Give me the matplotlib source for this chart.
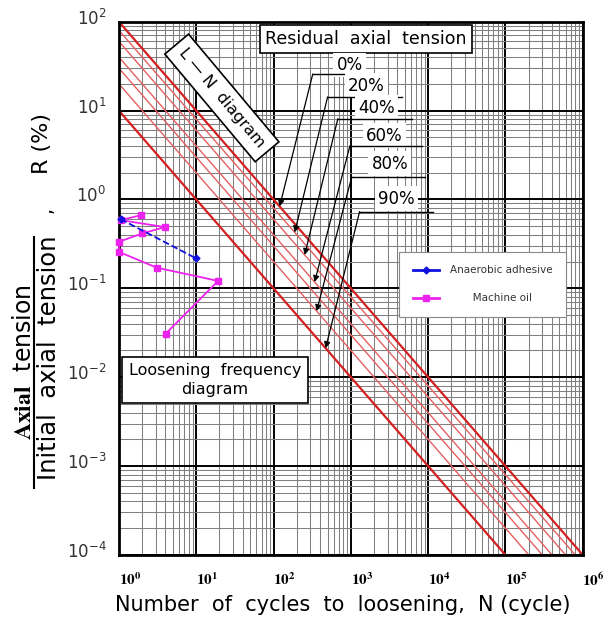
import numpy as np
import matplotlib
matplotlib.use("Agg")
import matplotlib.pyplot as plt
import matplotlib.transforms as mtransforms
from matplotlib.lines import Line2D

# L-N diagram: lines R = C / N for each residual axial tension level
line_consts = [100, 80, 60, 40, 30, 20, 10]
line_thick = [True, False, False, False, False, False, True]

# arrow labels (residual axial tension) -> line constant and cycle where arrow hits
pct_labels = ["0%", "20%", "40%", "60%", "80%", "90%"]
pct_consts = [100, 80, 60, 40, 20, 10]
pct_tip_n = [120, 188, 253, 340, 361, 472]

# measured points
adhesive_n = [1.05, 10.0]
adhesive_r = [0.60, 0.217]
oil_n = [1.96, 1.05, 3.93, 2.02, 1.01, 1.01, 3.07, 19.2, 4.05]
oil_r = [0.667, 0.585, 0.489, 0.415, 0.335, 0.256, 0.171, 0.121, 0.031]

x_ticks = [1e0, 1e1, 1e2, 1e3, 1e4, 1e5, 1e6]
x_ticklabels = [r"$\mathbf{10^{%d}}$" % i for i in range(0, 7)]
y_ticks = [1e-4, 1e-3, 1e-2, 1e-1, 1e0, 1e1, 1e2]
y_ticklabels = [r"$10^{%d}$" % i for i in range(-4, 3)]

plt.rcParams['font.family'] = ['DejaVu Sans']

fig = plt.figure(figsize=(6.16, 6.2), dpi=100)
ax = fig.add_axes([0.193, 0.105, 0.753, 0.860])
ax.set_xscale('log')
ax.set_yscale('log')
ax.set_xlim(1, 1e6)
ax.set_ylim(1e-4, 1e2)

# grid
ax.grid(True, which='major', color='black', lw=1.4, zorder=0)
ax.grid(True, which='minor', color='#808080', lw=0.75, zorder=0)
ax.set_axisbelow(True)
for s in ax.spines.values():
    s.set_linewidth(2)
    s.set_color('black')

# red lines
n_vals = np.logspace(-2, 6.2, 200)
for c, thick in zip(line_consts, line_thick):
    if thick:
        ax.plot(n_vals, c / n_vals, color='#d42020', lw=1.6, zorder=2)
    else:
        ax.plot(n_vals, c / n_vals, color='#e46060', lw=1.0, zorder=2)

# data series
ax.plot(adhesive_n, adhesive_r, color='#1010e0', ls='--', lw=1.3,
        marker='D', ms=3.5, zorder=5, clip_on=False)
ax.plot(oil_n, oil_r, color='#ee22ee', lw=1.3, marker='s', ms=5,
        zorder=4, clip_on=False)

# ticks
ax.set_xticks(x_ticks)
ax.set_xticklabels(x_ticklabels)
ax.set_yticks(y_ticks)
ax.set_yticklabels(y_ticklabels)
ax.tick_params(which='both', length=0)
ax.tick_params(axis='x', pad=12, labelsize=11)
ax.tick_params(axis='y', pad=9, labelsize=12)
for lab in ax.get_xticklabels():
    lab.set_math_fontfamily('stix')
    lab.set_transform(lab.get_transform() +
                      mtransforms.ScaledTranslation(0.11, 0, fig.dpi_scale_trans))
for lab in ax.get_yticklabels():
    lab.set_color('#333333')
    lab.set_transform(lab.get_transform() +
                      mtransforms.ScaledTranslation(0, 0.05, fig.dpi_scale_trans))

# box labels
box = dict(boxstyle='square,pad=0.3', fc='white', ec='black', lw=1.2)
ax.text(0.532, 0.968, "Residual  axial  tension", transform=ax.transAxes,
        ha='center', va='center', fontsize=12.5, bbox=box, zorder=6)
ax.text(0.222, 0.857, "L — N  diagram", transform=ax.transAxes, rotation=-50,
        ha='center', va='center', fontsize=11.5, rotation_mode='anchor',
        bbox=dict(boxstyle='square,pad=0.5', fc='white', ec='black', lw=1.2),
        zorder=6)
ax.text(0.207, 0.328, "Loosening  frequency\ndiagram", transform=ax.transAxes,
        ha='center', va='center', fontsize=11.5, linespacing=1.3,
        bbox=dict(boxstyle='square,pad=0.4', fc='white', ec='black', lw=1.2),
        zorder=6)

# percent labels with leader lines and arrows
lead_y = [0.902, 0.859, 0.818, 0.767, 0.709, 0.644]
lead_x0 = [0.418, 0.450, 0.472, 0.498, 0.502, 0.519]
lead_x1 = [0.569, 0.610, 0.631, 0.653, 0.659, 0.677]
txt_pos = [(0.498, 0.919), (0.534, 0.880), (0.556, 0.839),
           (0.573, 0.786), (0.584, 0.734), (0.599, 0.668)]
for i in range(len(pct_labels)):
    ax.text(txt_pos[i][0], txt_pos[i][1], pct_labels[i], transform=ax.transAxes,
            ha='center', va='center', fontsize=12, zorder=6,
            bbox=dict(boxstyle='square,pad=0.2', fc='white', ec='none'))
    ax.add_line(Line2D([lead_x0[i], lead_x1[i]], [lead_y[i], lead_y[i]],
                       transform=ax.transAxes, color='black', lw=1.0, zorder=6))
    tip = pct_tip_n[i]
    ax.annotate("", xy=(tip, pct_consts[i] / tip), xycoords='data',
                xytext=(lead_x0[i], lead_y[i]), textcoords='axes fraction',
                arrowprops=dict(arrowstyle='-|>', color='black', lw=0.9,
                                mutation_scale=9, shrinkA=0, shrinkB=0),
                zorder=7)

# legend (solid handles as in the original, second label roughly centred)
h_adh = Line2D([], [], color='#1010e0', lw=2, marker='D', ms=3.5)
h_oil = Line2D([], [], color='#ee22ee', lw=2, marker='s', ms=5)
leg = ax.legend([h_adh, h_oil], ["Anaerobic adhesive", "       Machine oil"],
                loc='upper right', bbox_to_anchor=(0.976, 0.578), fontsize=7.5,
                frameon=True, fancybox=False, edgecolor='#888888', framealpha=1,
                borderpad=1.3, labelspacing=1.7, handlelength=2.5,
                handletextpad=1.1)
leg.set_zorder(8)
leg.get_frame().set_linewidth(0.8)
for t in leg.get_texts():
    t.set_color('#333333')

# axis titles
fig.text(0.557, 0.024, "Number  of  cycles  to  loosening,  N (cycle)",
         ha='center', va='center', fontsize=15)
t1 = fig.text(0.039, 0.416, r"$\mathbf{Axial}$  tension", rotation=90,
              ha='center', va='center', fontsize=17)
t1.set_math_fontfamily('stix')
fig.text(0.079, 0.423, "Initial  axial  tension", rotation=90,
         ha='center', va='center', fontsize=17.5)
fig.add_artist(Line2D([0.056, 0.056], [0.213, 0.618], transform=fig.transFigure,
                      color='black', lw=1.5))
fig.text(0.068, 0.769, "R (%)", rotation=90, ha='center', va='center',
         fontsize=16)
fig.text(0.074, 0.661, ",", rotation=90, ha='center', va='center',
         fontsize=14)

fig.savefig("out.png", dpi=100)
